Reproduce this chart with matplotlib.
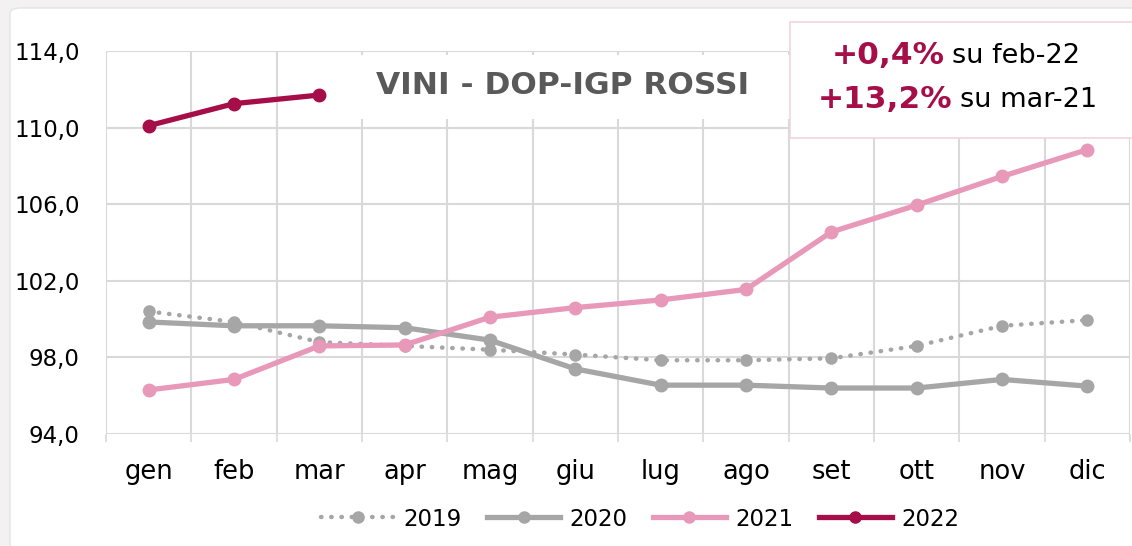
import matplotlib.pyplot as plt
from matplotlib.patches import FancyBboxPatch, Rectangle
from matplotlib.lines import Line2D
from matplotlib.ticker import FixedLocator, FuncFormatter

months = ["gen", "feb", "mar", "apr", "mag", "giu", "lug", "ago", "set", "ott", "nov", "dic"]
v2019 = [100.4, 99.85, 98.8, 98.6, 98.4, 98.15, 97.85, 97.85, 97.95, 98.6, 99.65, 99.95]
v2020 = [99.85, 99.65, 99.65, 99.55, 98.9, 97.4, 96.55, 96.55, 96.4, 96.4, 96.85, 96.5]
v2021 = [96.3, 96.85, 98.6, 98.65, 100.1, 100.6, 101.0, 101.55, 104.55, 105.95, 107.45, 108.85]
v2022 = [110.1, 111.25, 111.7]
yticks = [94, 98, 102, 106, 110, 114]

GRAY = "#a6a6a6"
PINK = "#e899b9"
CRIMSON = "#a50e48"
GRID = "#d9d9d9"

plt.rcParams["font.family"] = ["DejaVu Sans"]

W, H = 1132, 546
fig = plt.figure(figsize=(W / 100, H / 100), dpi=100, facecolor="#f3f1f1")


def px(x0, y0, x1, y1):
    # pixel box (top-left origin) -> figure fraction rect
    return x0 / W, 1 - y1 / H, (x1 - x0) / W, (y1 - y0) / H


bx, by, bw, bh = px(10, 8, 1140, 560)
fig.patches.append(FancyBboxPatch((bx, by), bw, bh, boxstyle="round,pad=0,rounding_size=0.01",
                                  transform=fig.transFigure, facecolor="white",
                                  edgecolor="#e4e4e4", linewidth=1, zorder=-5))

ax = fig.add_axes(px(106, 51, 1130, 434))
ax.set_facecolor("none")
x = list(range(len(months)))

ax.plot(x, v2019, color=GRAY, lw=3.2, ls=(0, (0.1, 2.2)), dash_capstyle="round",
        marker="o", ms=8, zorder=3)
ax.plot(x, v2020, color=GRAY, lw=3.8, marker="o", ms=9, solid_capstyle="round", zorder=4)
ax.plot(x, v2021, color=PINK, lw=3.8, marker="o", ms=9, solid_capstyle="round", zorder=5)
ax.plot(x[:len(v2022)], v2022, color=CRIMSON, lw=3.8, marker="o", ms=9,
        solid_capstyle="round", zorder=6)

ax.set_xlim(-0.5, len(months) - 0.5)
ax.set_ylim(94, 114)
ax.set_xticks(x)
ax.set_xticklabels(months, fontsize=18.5)
ax.xaxis.set_minor_locator(FixedLocator([i - 0.5 for i in range(len(months) + 1)]))
ax.set_yticks(yticks)
ax.yaxis.set_major_formatter(FuncFormatter(lambda v, p: f"{v:.1f}".replace(".", ",")))
ax.tick_params(axis="y", length=0, labelsize=16.5, pad=19)
ax.tick_params(axis="x", which="major", length=0, pad=18)
ax.tick_params(axis="x", which="minor", length=6, color=GRID, width=1.2)
ax.grid(axis="y", color=GRID, lw=1.5)
ax.grid(axis="x", which="minor", color=GRID, lw=1.5)
for s in ax.spines.values():
    s.set_visible(False)
ax.set_axisbelow(True)

# title on a white patch that hides the grid
tx, ty, tw, th = px(352, 55, 790, 119)
fig.patches.append(Rectangle((tx, ty), tw, th, transform=fig.transFigure,
                             facecolor="white", edgecolor="none", zorder=1))
fig.text(563 / W, 1 - 85 / H, "VINI - DOP-IGP ROSSI", ha="center", va="center",
         fontsize=22.5, fontweight="bold", color="#595959", zorder=3)

# annotation box
rx, ry, rw, rh = px(790, 22, 1140, 138)
fig.patches.append(Rectangle((rx, ry), rw, rh, transform=fig.transFigure, facecolor="white",
                             edgecolor="#f2d3dc", linewidth=1.2, zorder=2))
fig.text(945 / W, 1 - 56 / H, "+0,4%", ha="right", va="center", fontsize=22.5,
         fontweight="bold", color=CRIMSON, zorder=3)
fig.text(952 / W, 1 - 56 / H, "su feb-22", ha="left", va="center", fontsize=19.5,
         color="black", zorder=3)
fig.text(952 / W, 1 - 100 / H, "+13,2%", ha="right", va="center", fontsize=22.5,
         fontweight="bold", color=CRIMSON, zorder=3)
fig.text(960 / W, 1 - 100 / H, "su mar-21", ha="left", va="center", fontsize=19.5,
         color="black", zorder=3)

handles = [
    Line2D([], [], color=GRAY, lw=3.2, ls=(0, (0.1, 2.2)), dash_capstyle="round", marker="o", ms=8),
    Line2D([], [], color=GRAY, lw=3.8, marker="o", ms=8),
    Line2D([], [], color=PINK, lw=3.8, marker="o", ms=8),
    Line2D([], [], color=CRIMSON, lw=3.8, marker="o", ms=8),
]
fig.legend(handles, ["2019", "2020", "2021", "2022"], loc="center", ncol=4,
           bbox_to_anchor=(640 / W, 1 - 519 / H), frameon=False, fontsize=16.5,
           handlelength=3.2, handletextpad=0.4, columnspacing=1.1)

fig.savefig("out.png", dpi=100, facecolor=fig.get_facecolor())
